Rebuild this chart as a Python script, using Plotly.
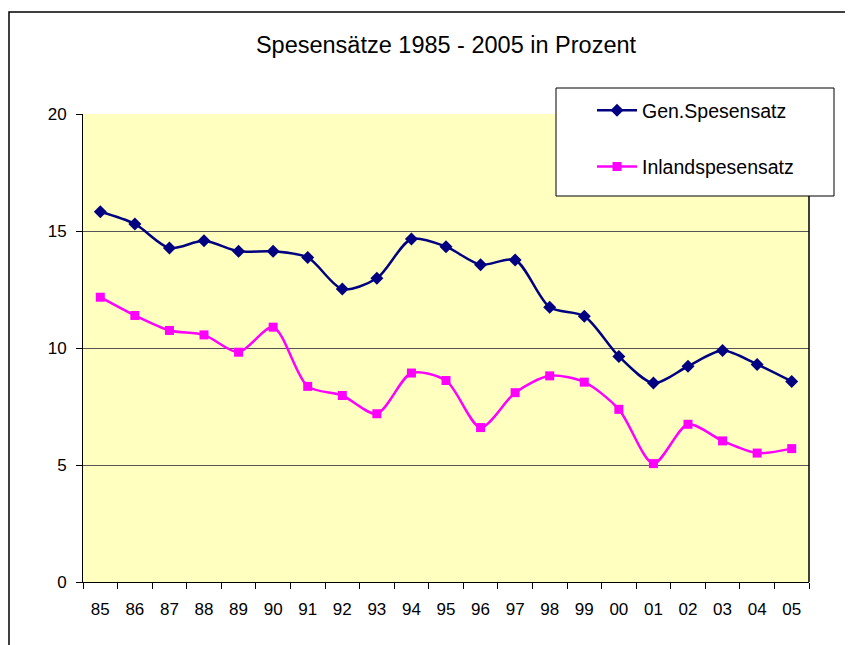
import plotly.graph_objects as go

years = ["85", "86", "87", "88", "89", "90", "91", "92", "93", "94", "95",
         "96", "97", "98", "99", "00", "01", "02", "03", "04", "05"]
gen_spesensatz = [15.82, 15.30, 14.27, 14.58, 14.13, 14.13, 13.87, 12.52, 12.98, 14.66, 14.33,
                  13.56, 13.76, 11.74, 11.36, 9.64, 8.50, 9.22, 9.89, 9.30, 8.57]
inland_spesensatz = [12.17, 11.39, 10.75, 10.56, 9.82, 10.89, 8.36, 7.97, 7.19, 8.93, 8.61,
                     6.60, 8.09, 8.81, 8.54, 7.38, 5.06, 6.74, 6.03, 5.51, 5.70]
y_ticks = [0, 5, 10, 15, 20]

FONT = "Liberation Sans, Arial, sans-serif"

# The page body adds an 8px offset; work in screen pixels.
OFF = 8
PL, PR, PT, PB = 83, 809, 114, 582   # plot area in screen px
W, H = 853 - OFF, 645 - OFF


def px_x(sx):
    return (sx - PL) / (PR - PL)


def px_y(sy):
    return (PB - sy) / (PB - PT)


fig = go.Figure()
fig.add_trace(go.Scatter(
    x=years, y=gen_spesensatz, name="Gen.Spesensatz", mode="lines+markers",
    line=dict(color="#000080", width=2.5, shape="spline", smoothing=0.8),
    marker=dict(symbol="diamond", size=10, color="#000080"),
    legendgroup="a"))
fig.add_trace(go.Scatter(
    x=years, y=inland_spesensatz, name="Inlandspesensatz", mode="lines+markers",
    line=dict(color="#FF00FF", width=2.5, shape="spline", smoothing=0.8),
    marker=dict(symbol="square", size=9, color="#FF00FF"),
    legendgroup="b"))

fig.update_layout(
    width=W, height=H,
    margin=dict(l=PL - OFF, r=853 - PR, t=PT - OFF, b=645 - PB),
    paper_bgcolor="white",
    plot_bgcolor="#FFFFC0",
    font=dict(family=FONT, size=17, color="black"),
    title=dict(text="Spesensätze 1985 - 2005 in Prozent", x=0.5, xanchor="center",
               xref="paper",
               y=1 - (45 - OFF) / H, yanchor="middle",
               font=dict(family=FONT, size=23.5, color="black")),
    showlegend=True,
    legend=dict(x=px_x(592), xanchor="left", y=px_y(91), yanchor="top",
                bgcolor="rgba(0,0,0,0)", borderwidth=0,
                font=dict(family=FONT, size=19.5, color="black"),
                tracegroupgap=28, itemwidth=40),
)

fig.update_xaxes(
    type="category", range=[-0.5, len(years) - 0.5], autorange=False,
    showgrid=False, showline=True, linecolor="black", linewidth=1,
    ticks="outside", tickson="boundaries", ticklen=6, tickcolor="black",
    tickfont=dict(family=FONT, size=17), ticklabelstandoff=12, zeroline=False)
fig.update_yaxes(
    range=[0, 20], tickvals=y_ticks, showgrid=True, gridcolor="#555555", gridwidth=1,
    showline=True, linecolor="black", linewidth=1, ticks="outside", ticklen=6,
    tickcolor="black", tickfont=dict(family=FONT, size=17), ticklabelstandoff=6,
    zeroline=False)

# plot area right border (Excel style)
fig.add_shape(type="line", xref="paper", yref="paper", x0=1, x1=1, y0=0, y1=1,
              line=dict(color="black", width=1.5))
# legend box
fig.add_shape(type="rect", xref="paper", yref="paper",
              x0=px_x(556), x1=px_x(834), y0=px_y(196), y1=px_y(88),
              fillcolor="white", line=dict(color="black", width=1), layer="above")
# chart area outer border, extending beyond the window
fig.add_shape(type="rect", xref="paper", yref="paper",
              x0=px_x(9), x1=px_x(900), y0=px_y(700), y1=px_y(12),
              line=dict(color="black", width=1.5), layer="below")

fig.write_html("out.html")
